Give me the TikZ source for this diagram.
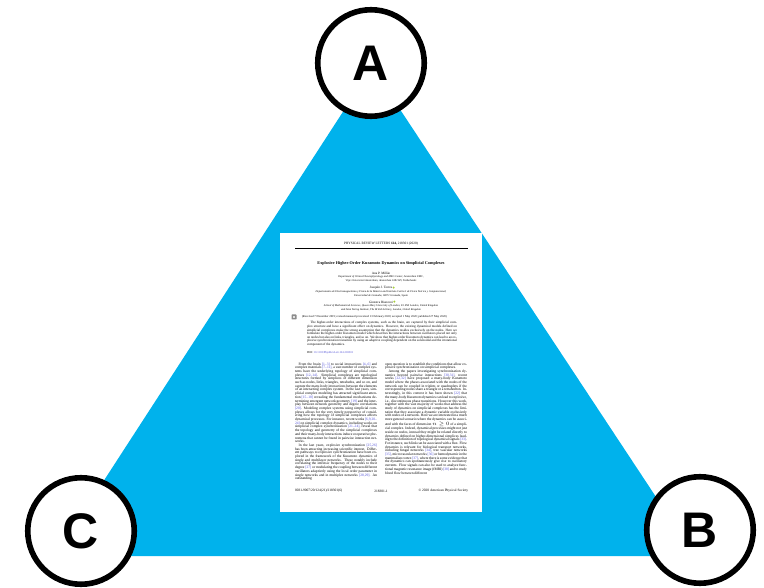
\documentclass[tikz,border=0pt]{standalone}
\usepackage{fontspec}
\setmainfont{Liberation Serif}
\newfontfamily\labelfont{Liberation Sans}
\definecolor{tri}{RGB}{0,178,236}
\definecolor{citeblue}{RGB}{80,80,215}
\definecolor{orcidgreen}{RGB}{166,206,57}
\newcommand{\fs}[2]{\fontsize{#1}{#2}\selectfont}
\newcommand{\ct}[1]{\textcolor{citeblue}{[#1]}}
\newcommand{\pin}{\noindent\hspace*{3.6pt}}

\begin{document}
\begin{tikzpicture}[x=1pt,y=-1pt,
  vertex/.style={circle,draw=black,line width=5.6pt,fill=white,minimum size=106.5pt,
    inner sep=0pt,font=\labelfont\bfseries\fs{50}{50}},
  txt/.style={inner sep=0pt,outer sep=0pt},
  col/.style={txt,anchor=north west,text width=82pt,align=justify,font=\fs{3.6}{3.7}},
  affil/.style={txt,align=center,font=\itshape\fs{2.75}{3.3}},
  author/.style={txt,font=\fs{3.3}{3.6}}]

\useasboundingbox (0,0) rectangle (764,588);

% triangle
\coordinate (tA) at (372,67);
\coordinate (tB) at (695,556);
\coordinate (tC) at (55,556);
\fill[tri] (tC) -- (tB) -- (tA) -- cycle;

% paper page
\node[txt,fill=white,minimum width=202pt,minimum height=279pt,anchor=north west] (page) at (280,233) {};

\node[txt,font=\fs{3.4}{3.8}] (head) at (381,244) {PHYSICAL REVIEW LETTERS \textbf{124,} 218301 (2020)};
\coordinate (r1) at (295,248.8);
\coordinate (r2) at (468,248.8);
\draw[line width=0.9pt] (r1) -- (r2);

\node[txt,font=\bfseries\fs{4.2}{4.6}] (title) at (381,264) {Explosive Higher-Order Kuramoto Dynamics on Simplicial Complexes};

\node[author] (millan) at (381,273) {Ana P. Millán};
\node[affil] (aff1) at (381,278.7) {Department of Clinical Neurophysiology and MEG Center, Amsterdam UMC,\\
Vrije Universiteit Amsterdam, Amsterdam 1081 HV, Netherlands};

\node[author] (torres) at (381,288) {Joaquín J. Torres};
\fill[orcidgreen] (torres.east) ++(1.4,-0.4) circle (1.1pt);
\node[affil] (aff2) at (381,293.7) {Departamento de Electromagnetismo y Física de la Materia and Instituto Carlos I de Física Teórica y Computacional,\\
Universidad de Granada, 18071 Granada, Spain};

\node[author] (bianconi) at (381,302) {Ginestra Bianconi};
\fill[orcidgreen] (bianconi.east) ++(1.4,-0.4) circle (1.1pt);
\node[affil] (aff3) at (381,307.7) {School of Mathematical Sciences, Queen Mary University of London, E1 4NS London, United Kingdom\\
and Alan Turing Institute, The British Library, London, United Kingdom};

\node[txt,fill=black!45,rounded corners=0.6pt,minimum size=5pt] (cross) at (294,317) {};
\node[txt,fill=white,circle,minimum size=2.4pt] at (cross) {};
\node[txt,anchor=west,font=\fs{2.9}{3.3}] (recv) at (302,317) {(Received 7 December 2019; revised manuscript received 13 February 2020; accepted 1 May 2020; published 27 May 2020)};

\node[txt,anchor=north west,text width=150pt,align=justify,font=\fs{3.35}{3.55}] (abstract) at (307,321.6) {\pin
The higher-order interactions of complex systems, such as the brain, are captured by their simplicial complex structure and have a significant effect on dynamics. However, the existing dynamical models defined on simplicial complexes make the strong assumption that the dynamics resides exclusively on the nodes. Here we formulate the higher-order Kuramoto model which describes the interactions between oscillators placed not only on nodes but also on links, triangles, and so on. We show that higher-order Kuramoto dynamics can lead to an explosive synchronization transition by using an adaptive coupling dependent on the solenoidal and the irrotational component of the dynamics.};

\node[txt,anchor=west,font=\fs{2.9}{3.3}] (doi) at (307,353) {DOI: \textcolor{citeblue}{10.1103/PhysRevLett.124.218301}};

\node[col] (left) at (295,362.6) {\pin
From the brain \ct{1--3} to social interactions \ct{4--6} and complex materials \ct{7--11}, a vast number of complex systems have the underlying topology of simplicial complexes \ct{12--14}. Simplicial complexes are topological structures formed by simplices of different dimension such as nodes, links, triangles, tetrahedra, and so on, and capture the many-body interactions between the elements of an interacting complex system. In the last years, simplicial complex modeling has attracted significant attention \ct{15--18} revealing the fundamental mechanisms determining emergent network geometry \ct{19} and the interplay between network geometry and degree correlations \ct{20}. Modeling complex systems using simplicial complexes allows for the very timely perspective of considering how the topology of simplicial complexes affects dynamical processes. For instance, recent works \ct{6,9,20--24} on simplicial complex dynamics, including works on simplicial complex synchronization \ct{21--24}, reveal that the topology and geometry of the simplicial complexes and their many-body interactions induce cooperative phenomena that cannot be found in pairwise interaction networks.\par
\pin In the last years, explosive synchronization \ct{25,26} has been attracting increasing scientific interest. Different pathways to explosive synchronization have been explored in the framework of the Kuramoto dynamics of single and multilayer networks. These notably include correlating the intrinsic frequency of the nodes to their degree \ct{27} or modulating the coupling between different oscillators adaptively using the local order parameter in single networks and in multiplex networks \ct{28,29}. An outstanding};

\node[col] (right) at (385,362.6) {\noindent
open question is to establish the conditions that allow explosive synchronization on simplicial complexes.\par
\pin Among the papers investigating synchronization dynamics beyond pairwise interactions \ct{30,31}, recent works \ct{22,32} have proposed a many-body Kuramoto model where the phases associated with the nodes of the network can be coupled in triplets or quadruplets if the corresponding nodes share a triangle or a tetrahedron. Interestingly, in this context it has been shown \ct{22} that the many-body Kuramoto dynamics can lead to explosive, i.e., discontinuous phase transitions. However this work, together with the vast majority of works that address the study of dynamics on simplicial complexes has the limitation that they associate a dynamic variable exclusively with nodes of a network. Here we are interested in a much more general scenario where the dynamics can be associated with the faces of dimension $n\geq 0$ of a simplicial complex. Indeed, dynamical processes might not just reside on nodes, instead they might be related directly to dynamics defined on higher-dimensional simplices leading to the definition of topological dynamical signals \ct{33}. For instance, such link can be associated with a flux. Flow dynamics is relevant for biological transport networks, including fungal networks \ct{34}, tree vascular networks \ct{35}, microvascular networks \ct{36} or hemodynamic in the mammalian cortex \ct{37}, where there is some evidence that the dynamics can spontaneously give rise to oscillatory currents. Flow signals can also be used to analyze functional magnetic resonance image (fMRI) \ct{38} and to study blood flow between different};

\node[txt,anchor=west,font=\fs{3.5}{3.8}] (foot1) at (295,491) {0031-9007/20/124(21)/218301(6)};
\node[txt,font=\fs{3.5}{3.8}] (foot2) at (381,491) {218301-1};
\node[txt,anchor=east,font=\fs{3.5}{3.8}] (foot3) at (468,491) {\textcopyright\ 2020 American Physical Society};

% labelled corners
\node[vertex] (A) at (371,63) {A};
\node[vertex] (B) at (700,530) {B};
\node[vertex] (C) at (81,531) {C};
\end{tikzpicture}
\end{document}
